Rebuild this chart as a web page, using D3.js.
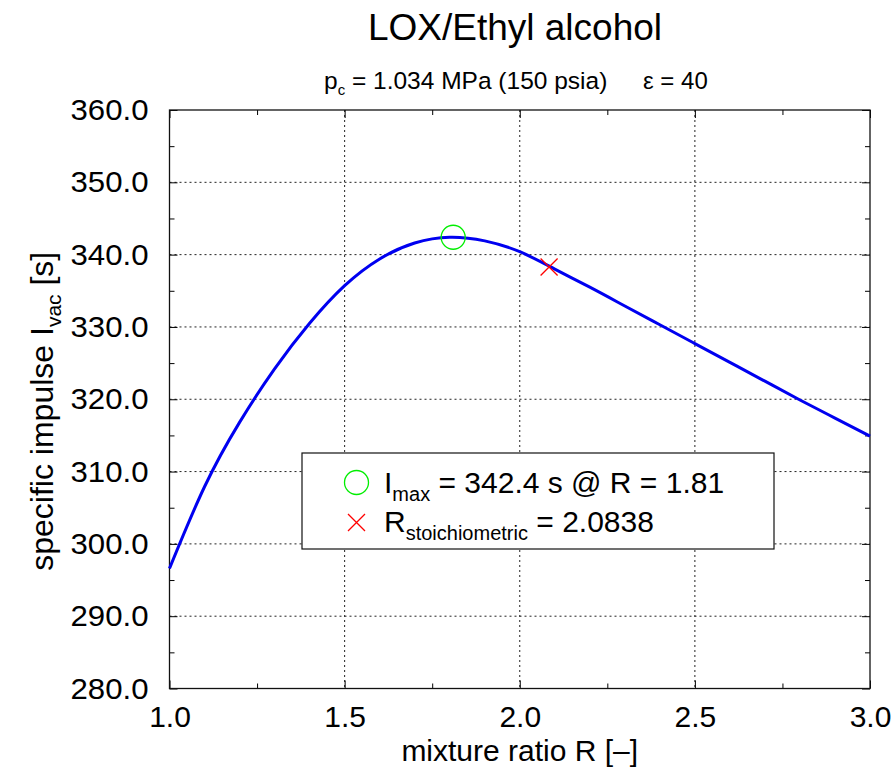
<!DOCTYPE html>
<html>
<head>
<meta charset="utf-8">
<script src="https://cdn.jsdelivr.net/npm/d3@7"></script>
<style>
  html, body { margin: 0; padding: 0; background: #fff; }
  svg { display: block; font-family: "Liberation Sans", Arial, Helvetica, sans-serif; }
</style>
</head>
<body>
<svg id="chart" width="894" height="773"></svg>
<script>
// Vacuum specific impulse vs. mixture ratio, LOX / ethyl alcohol
const mixtureRatio = [1.0, 1.1, 1.2, 1.3, 1.4, 1.5, 1.6, 1.7, 1.8, 1.9, 2.0,
                      2.1, 2.2, 2.3, 2.4, 2.5, 2.6, 2.7, 2.8, 2.9, 3.0];
const specificImpulse = [296.6, 307.9, 316.8, 324.2, 330.5, 335.7, 339.4, 341.6, 342.4, 341.9, 340.4,
                         338.0, 335.5, 332.9, 330.3, 327.7, 325.1, 322.5, 319.9, 317.4, 314.9];

const xTicks = [1.0, 1.5, 2.0, 2.5, 3.0];
const yTicks = [280, 290, 300, 310, 320, 330, 340, 350, 360];
const xMinorTicks = [1.25, 1.75, 2.25, 2.75];
const yMinorTicks = [285, 295, 305, 315, 325, 335, 345, 355];

const optimum = { R: 1.81, I: 342.4 };
const stoichiometric = { R: 2.0838, I: 338.3 };

const titleText = "LOX/Ethyl alcohol";

const svg = d3.select("#chart");
const plot = { left: 169.5, right: 870, top: 110, bottom: 688.5 };

const x = d3.scaleLinear().domain([1.0, 3.0]).range([plot.left, plot.right]);
const y = d3.scaleLinear().domain([280, 360]).range([plot.bottom, plot.top]);

// grid
const grid = svg.append("g").attr("stroke", "#222").attr("stroke-width", 1)
  .attr("stroke-dasharray", "2,3").attr("fill", "none");
grid.selectAll(".gx").data(xTicks.slice(1, -1)).join("line")
  .attr("x1", d => x(d)).attr("x2", d => x(d))
  .attr("y1", plot.top).attr("y2", plot.bottom);
grid.selectAll(".gy").data(yTicks.slice(1, -1)).join("line")
  .attr("x1", plot.left).attr("x2", plot.right)
  .attr("y1", d => y(d)).attr("y2", d => y(d));

// axes via d3 axis generators (inward ticks, mirrored on top/right)
function styleAxis(g) {
  g.select(".domain").remove();
  g.selectAll(".tick line").attr("stroke", "#000").attr("stroke-width", 1);
}
const tickFont = 30;
const fontFam = "Liberation Sans, Arial, sans-serif";
svg.append("g").attr("transform", `translate(0,${plot.bottom})`)
  .call(d3.axisBottom(x).tickValues(xTicks).tickFormat(d3.format(".1f")).tickSizeInner(-8).tickSizeOuter(0).tickPadding(17))
  .call(styleAxis)
  .call(g => g.selectAll("text").attr("font-size", tickFont).attr("font-family", fontFam).attr("fill", "#000"));
svg.append("g").attr("transform", `translate(0,${plot.bottom})`)
  .call(d3.axisBottom(x).tickValues(xMinorTicks).tickFormat("").tickSizeInner(-5).tickSizeOuter(0))
  .call(styleAxis);
svg.append("g").attr("transform", `translate(0,${plot.top})`)
  .call(d3.axisTop(x).tickValues(xTicks).tickFormat("").tickSizeInner(-8).tickSizeOuter(0))
  .call(styleAxis);
svg.append("g").attr("transform", `translate(0,${plot.top})`)
  .call(d3.axisTop(x).tickValues(xMinorTicks).tickFormat("").tickSizeInner(-5).tickSizeOuter(0))
  .call(styleAxis);

svg.append("g").attr("transform", `translate(${plot.left},0)`)
  .call(d3.axisLeft(y).tickValues(yTicks).tickFormat(d3.format(".1f")).tickSizeInner(-8).tickSizeOuter(0).tickPadding(21))
  .call(styleAxis)
  .call(g => g.selectAll("text").attr("font-size", tickFont).attr("font-family", fontFam).attr("fill", "#000")
    .attr("textLength", 78).attr("lengthAdjust", "spacingAndGlyphs"));
svg.append("g").attr("transform", `translate(${plot.left},0)`)
  .call(d3.axisLeft(y).tickValues(yMinorTicks).tickFormat("").tickSizeInner(-5).tickSizeOuter(0))
  .call(styleAxis);
svg.append("g").attr("transform", `translate(${plot.right},0)`)
  .call(d3.axisRight(y).tickValues(yTicks).tickFormat("").tickSizeInner(-8).tickSizeOuter(0))
  .call(styleAxis);
svg.append("g").attr("transform", `translate(${plot.right},0)`)
  .call(d3.axisRight(y).tickValues(yMinorTicks).tickFormat("").tickSizeInner(-5).tickSizeOuter(0))
  .call(styleAxis);

// frame
svg.append("rect")
  .attr("x", plot.left).attr("y", plot.top)
  .attr("width", plot.right - plot.left).attr("height", plot.bottom - plot.top)
  .attr("fill", "none").attr("stroke", "#111").attr("stroke-width", 1.3);

// legend box
const legend = svg.append("g");
legend.append("rect")
  .attr("x", 302).attr("y", 453).attr("width", 472).attr("height", 96)
  .attr("fill", "#fff").attr("stroke", "#111").attr("stroke-width", 1.2);

// curve
const pts = mixtureRatio.map((r, i) => [r, specificImpulse[i]]);
const line = d3.line().x(d => x(d[0])).y(d => y(d[1])).curve(d3.curveNatural);
svg.append("path").datum(pts)
  .attr("d", line).attr("fill", "none")
  .attr("stroke", "#0000f0").attr("stroke-width", 3).attr("stroke-linejoin", "round");

// markers
function drawCircle(g, cx, cy) {
  g.append("circle").attr("cx", cx).attr("cy", cy).attr("r", 12)
    .attr("fill", "none").attr("stroke", "#00ee00").attr("stroke-width", 1.3);
}
function drawCross(g, cx, cy) {
  const s = 8.5;
  g.append("path")
    .attr("d", `M${cx - s},${cy - s}L${cx + s},${cy + s}M${cx - s},${cy + s}L${cx + s},${cy - s}`)
    .attr("stroke", "#ff0000").attr("stroke-width", 1.3).attr("fill", "none");
}
drawCircle(svg, x(optimum.R), y(optimum.I));
drawCross(svg, x(stoichiometric.R), y(stoichiometric.I));

// legend entries
drawCircle(legend, 356.5, 482.5);
drawCross(legend, 356.5, 522.5);
const l1 = legend.append("text").attr("x", 384).attr("y", 493).attr("font-size", 30);
l1.append("tspan").text("I");
l1.append("tspan").attr("font-size", 20).attr("dy", 8).text("max");
l1.append("tspan").attr("dy", -8).text(` = ${optimum.I.toFixed(1)} s @ R = ${optimum.R.toFixed(2)}`);
const l2 = legend.append("text").attr("x", 384).attr("y", 532).attr("font-size", 30);
l2.append("tspan").text("R");
l2.append("tspan").attr("font-size", 20).attr("dy", 8).text("stoichiometric");
l2.append("tspan").attr("dy", -8).text(` = ${stoichiometric.R.toFixed(4)}`);

// titles
svg.append("text").attr("x", 515).attr("y", 40).attr("text-anchor", "middle")
  .attr("font-size", 37).text(titleText);
const sub = svg.append("text").attr("x", 324).attr("y", 89).attr("font-size", 24.5);
sub.append("tspan").text("p");
sub.append("tspan").attr("font-size", 15).attr("dy", 6).text("c");
sub.append("tspan").attr("dy", -6).text(" = 1.034 MPa (150 psia)");
svg.append("text").attr("x", 643).attr("y", 89).attr("font-size", 24).text("\u03b5 = 40");

svg.append("text").attr("x", (plot.left + plot.right) / 2).attr("y", 761)
  .attr("text-anchor", "middle").attr("font-size", 30).text("mixture ratio R [\u2013]");

const yl = svg.append("text")
  .attr("transform", `translate(53,${(plot.top + plot.bottom) / 2 + 12}) rotate(-90)`)
  .attr("text-anchor", "middle").attr("font-size", 32);
yl.append("tspan").text("specific impulse I");
yl.append("tspan").attr("font-size", 21).attr("dy", 8).text("vac");
yl.append("tspan").attr("dy", -8).text(" [s]");
</script>
</body>
</html>
